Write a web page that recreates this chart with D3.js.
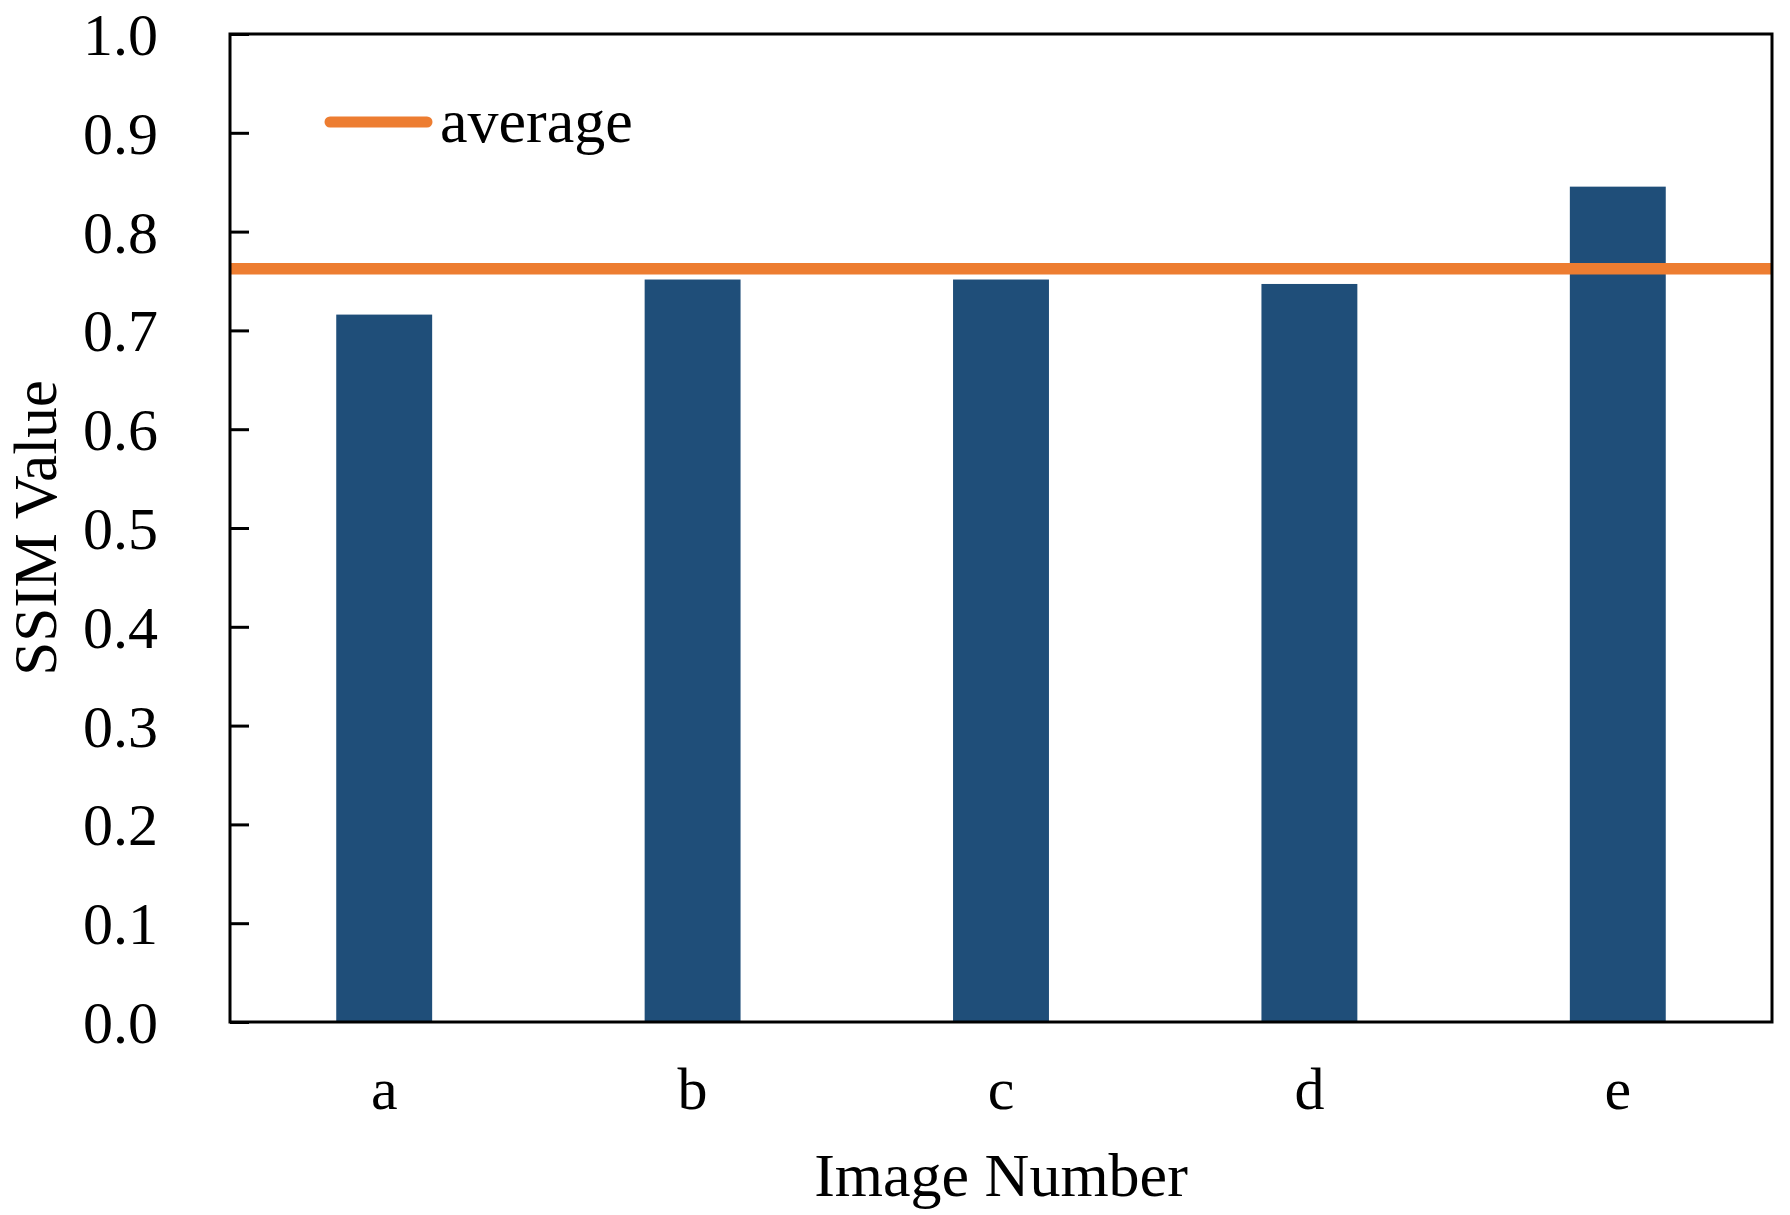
<!DOCTYPE html>
<html>
<head>
<meta charset="utf-8">
<script src="https://cdn.jsdelivr.net/npm/d3@7"></script>
<style>
  html, body { margin: 0; padding: 0; background: #fff; }
  svg { display: block; }
  text { font-family: "Times New Roman", "Liberation Serif", serif; fill: #000; }
</style>
</head>
<body>
<div id="chart"></div>
<script>
// data
const images = ['a', 'b', 'c', 'd', 'e']
const ssim = [0.716, 0.7515, 0.7515, 0.747, 0.8455]
const averageValue = 0.7624
const yTicks = [0, 0.1, 0.2, 0.3, 0.4, 0.5, 0.6, 0.7, 0.8, 0.9, 1.0]

const width = 1790
const height = 1215
const margin = { top: 34, right: 18, bottom: 193, left: 230 }
const innerW = width - margin.left - margin.right
const innerH = height - margin.top - margin.bottom

const barColor = '#1f4e79'
const avgColor = '#ed7d31'

let svg = d3.select('#chart')
    .append('svg')
    .attr('width', width)
    .attr('height', height)

let g = svg.append('g')
    .attr('transform', `translate(${margin.left},${margin.top})`)

const x = d3.scaleBand()
    .domain(images)
    .range([0, innerW])
    .paddingInner(0.689)
    .paddingOuter(0.3445)

const y = d3.scaleLinear()
    .domain([0, 1])
    .range([innerH, 0])

// bars
g.append('g')
    .classed('bars', true)
    .selectAll('rect')
    .data(images.map((d, i) => ({ name: d, value: ssim[i] })))
    .enter()
    .append('rect')
    .attr('x', d => x(d.name))
    .attr('y', d => y(d.value))
    .attr('width', x.bandwidth())
    .attr('height', d => innerH - y(d.value))
    .attr('fill', barColor)

// average line
g.append('line')
    .attr('x1', 0)
    .attr('x2', innerW)
    .attr('y1', y(averageValue))
    .attr('y2', y(averageValue))
    .attr('stroke', avgColor)
    .attr('stroke-width', 11.5)

// y axis, ticks pointing inward
let yAxis = g.append('g')
    .call(d3.axisLeft(y)
        .tickValues(yTicks)
        .tickFormat(d3.format('.1f'))
        .tickSizeInner(-19)
        .tickSizeOuter(0)
        .tickPadding(72))
yAxis.select('.domain').remove()
yAxis.selectAll('line').attr('stroke', '#000').attr('stroke-width', 3)
yAxis.selectAll('text')
    .attr('font-size', 60)
    .attr('dy', '0.34em')
    .style('font-family', '"Times New Roman", "Liberation Serif", serif')

// x labels
let xAxis = g.append('g')
    .attr('transform', `translate(0,${innerH})`)
    .call(d3.axisBottom(x).tickSize(0))
xAxis.select('.domain').remove()
xAxis.selectAll('text')
    .attr('y', 87)
    .attr('dy', null)
    .attr('font-size', 60)
    .style('font-family', '"Times New Roman", "Liberation Serif", serif')

// frame
g.append('rect')
    .attr('x', 0)
    .attr('y', 0)
    .attr('width', innerW)
    .attr('height', innerH)
    .attr('fill', 'none')
    .attr('stroke', '#000')
    .attr('stroke-width', 3)

// axis titles
svg.append('text')
    .attr('x', margin.left + innerW / 2)
    .attr('y', 1196)
    .attr('text-anchor', 'middle')
    .attr('font-size', 62)
    .text('Image Number')

svg.append('text')
    .attr('transform', `translate(56,${margin.top + innerH / 2}) rotate(-90)`)
    .attr('text-anchor', 'middle')
    .attr('font-size', 61)
    .text('SSIM Value')

// legend
let legend = svg.append('g').classed('legend', true)
legend.append('line')
    .attr('x1', 330)
    .attr('x2', 427)
    .attr('y1', 122)
    .attr('y2', 122)
    .attr('stroke', avgColor)
    .attr('stroke-width', 11)
    .attr('stroke-linecap', 'round')
legend.append('text')
    .attr('x', 440)
    .attr('y', 142)
    .attr('font-size', 62)
    .text('average')
</script>
</body>
</html>
